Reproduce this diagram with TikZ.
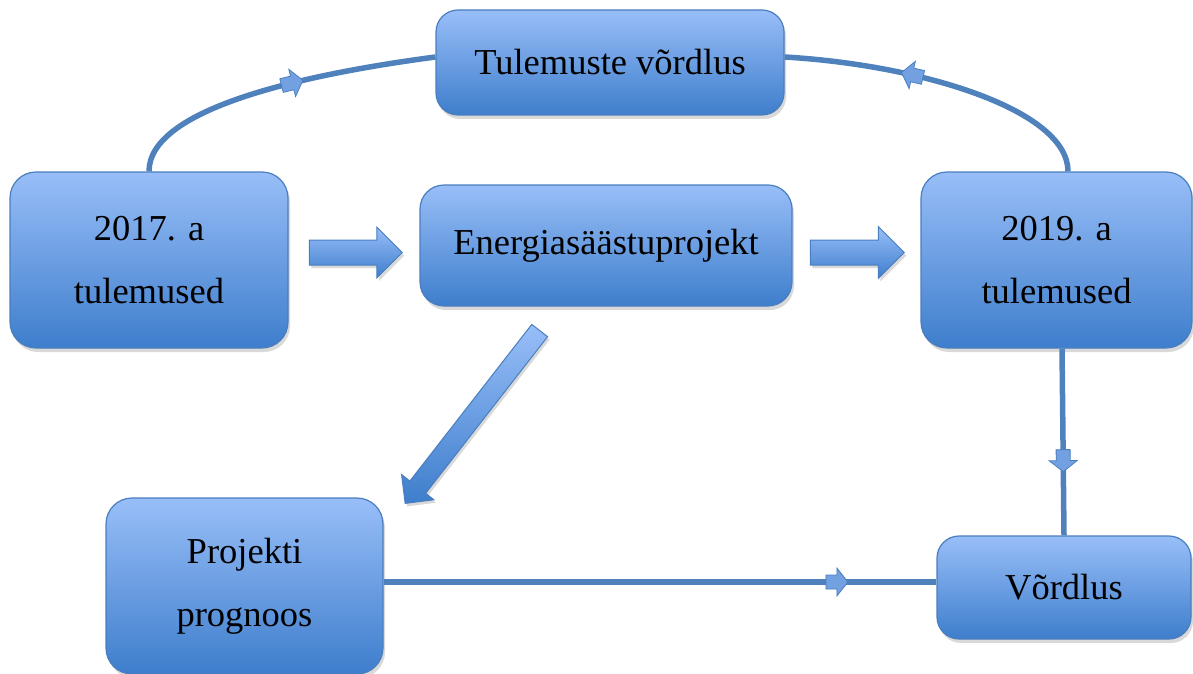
\documentclass[tikz,border=0pt]{standalone}
\usepackage{fontspec}
\setmainfont{Liberation Serif}
\usetikzlibrary{shapes.arrows,shadows,decorations.markings}
\definecolor{boxtop}{RGB}{152,190,248}
\definecolor{boxbot}{RGB}{62,126,204}
\definecolor{edgec}{RGB}{74,126,190}
\definecolor{linec}{RGB}{79,129,189}
\definecolor{markf}{RGB}{115,160,225}
\tikzset{
  box/.style={rounded corners=26pt, draw=edgec, line width=1.2pt,
    top color=boxtop, bottom color=boxbot,
    drop shadow={opacity=0.3,shadow xshift=2pt,shadow yshift=-4pt},
    align=center, font=\fontsize{36.5}{63}\selectfont, inner sep=0pt},
  barrow/.style={single arrow, draw=edgec, line width=1pt,
    top color=boxtop, bottom color=boxbot, inner sep=0pt, text depth=0pt,
    single arrow tip angle=90,
    drop shadow={opacity=0.3,shadow xshift=2pt,shadow yshift=-3pt}},
  conn/.style={draw=linec, line width=5.5pt},
  midarrow/.style={postaction={decorate}, decoration={markings,
    mark=at position #1 with {\draw[draw=edgec, fill=markf, line width=0.8pt]
      (-11,-7)--(0,-7)--(0,-14)--(11,0)--(0,14)--(0,7)--(-11,7)--cycle;}}}
}
\begin{document}
\begin{tikzpicture}[x=1pt,y=1pt]
\useasboundingbox (0,0) rectangle (1193,-674);
\node[box, minimum width=348pt, minimum height=105pt, rounded corners=22pt] (tul) at (610,-62.5) {Tulemuste võrdlus};
\node[box, minimum width=278pt, minimum height=176pt] (a17) at (149,-260) {2017. a\\tulemused};
\node[box, minimum width=372pt, minimum height=121pt, rounded corners=24pt] (ene) at (606,-245.5) {Energiasäästuprojekt};
\node[box, minimum width=271pt, minimum height=176pt] (a19) at (1056.5,-260) {2019. a\\tulemused};
\node[box, minimum width=277pt, minimum height=176pt] (proj) at (244.5,-586) {Projekti\\prognoos};
\node[box, minimum width=254pt, minimum height=103pt, rounded corners=22pt] (vord) at (1064,-587.5) {Võrdlus};

\node[barrow, text height=24pt, minimum height=93pt, minimum width=50pt, single arrow head extend=13pt] (b1) at (349.5,-252.5) {};
\node[barrow, text height=24pt, minimum height=94pt, minimum width=51pt, single arrow head extend=13.5pt] (b2) at (851,-252.5) {};
\node[barrow, text height=19pt, minimum height=219pt, minimum width=40pt, single arrow head extend=10.5pt, rotate=232.1] (b3) at (475.5,-413) {};

\draw[conn, midarrow=0.55] (a17.north) .. controls +(0,62) and +(-136,-18) .. ([yshift=5.5pt]tul.west);
\draw[conn, midarrow=0.6] ([xshift=11.5pt]a19.north) .. controls +(0,61) and +(138,-8) .. ([yshift=5.5pt]tul.east);
\draw[conn, midarrow=0.6] ([xshift=5.5pt]a19.south) -- (vord.north);
\draw[conn, midarrow=0.82] ([yshift=4pt]proj.east) -- ([yshift=4pt]proj.east -| vord.west);
\end{tikzpicture}
\end{document}
